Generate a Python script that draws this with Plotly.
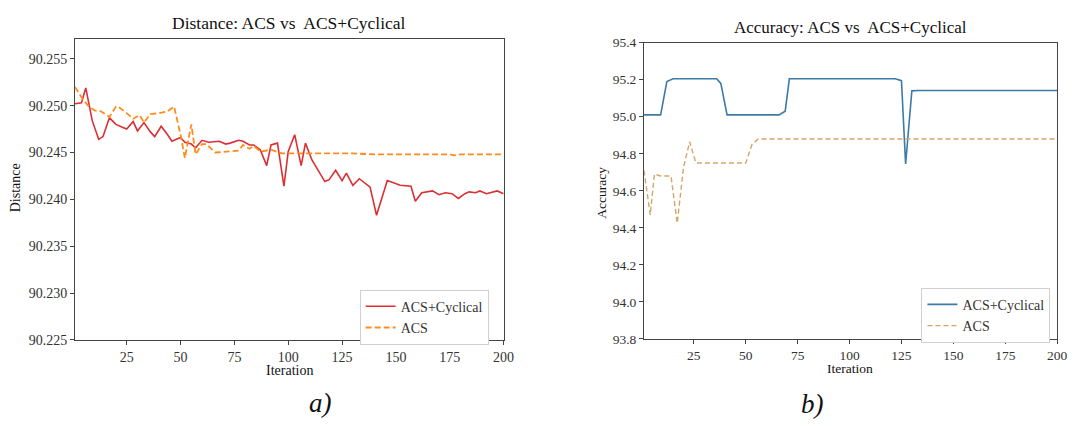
import plotly.graph_objects as go

# ---------------- data: (a) Distance ----------------
dist_cyc_iter = [1, 4, 6, 9, 12, 14, 17, 20, 23, 25, 28, 30, 33, 36, 38, 41, 44, 46, 50, 52,
                 55, 57, 60, 63, 68, 71, 73, 77, 79, 82, 84, 87, 90, 92, 95, 98, 100, 103, 106, 108,
                 111, 117, 119, 122, 125, 127, 130, 133, 138, 141, 146, 152, 157, 159, 162, 167, 170, 173, 176, 179,
                 182, 184, 187, 189, 192, 195, 197, 200]
dist_cyc = [90.2502, 90.2503, 90.2519, 90.2484, 90.2464, 90.2467, 90.2487, 90.2480, 90.2477, 90.2475,
            90.2483, 90.2473, 90.2482, 90.2472, 90.2467, 90.2478, 90.2469, 90.2462, 90.2466, 90.2461,
            90.2459, 90.2455, 90.2463, 90.2461, 90.2462, 90.2459, 90.2460, 90.2463, 90.2462, 90.2458,
            90.2458, 90.2453, 90.2436, 90.2458, 90.2460, 90.2414, 90.2451, 90.2469, 90.2436, 90.2460,
            90.2442, 90.2419, 90.2421, 90.2431, 90.2420, 90.2428, 90.2415, 90.2422, 90.2413, 90.2383,
            90.2420, 90.2415, 90.2414, 90.2398, 90.2407, 90.2409, 90.2405, 90.2407, 90.2406, 90.2401,
            90.2406, 90.2408, 90.2407, 90.2409, 90.2406, 90.2408, 90.2409, 90.2406]

dist_acs_iter = [1, 4, 7, 10, 13, 17, 20, 21, 25, 28, 31, 33, 36, 40, 44, 47, 50, 52, 55, 57,
                 60, 62, 66, 71, 77, 79, 82, 84, 87, 92, 97, 130, 140, 175, 177, 180, 200]
dist_acs = [90.2520, 90.2509, 90.2500, 90.2495, 90.2494, 90.2488, 90.2499, 90.2499, 90.2492, 90.2486,
            90.2490, 90.2482, 90.2491, 90.2492, 90.2494, 90.2499, 90.2469, 90.2444, 90.2480, 90.2448,
            90.2459, 90.2459, 90.2450, 90.2451, 90.2452, 90.2458, 90.2454, 90.2457, 90.2451, 90.2453,
            90.2449, 90.2449, 90.2448, 90.2448, 90.2447, 90.2448, 90.2448]

# ---------------- data: (b) Accuracy ----------------
acc_cyc_iter = [1, 9, 12, 15, 36, 38, 41, 66, 69, 71, 122, 125, 127, 130, 133, 200]
acc_cyc = [95.01, 95.01, 95.19, 95.205, 95.205, 95.18, 95.01, 95.01, 95.03, 95.205,
           95.205, 95.195, 94.745, 95.14, 95.142, 95.142]

acc_acs_iter = [1, 4, 6, 9, 14, 17, 20, 23, 26, 50, 53, 56, 200]
acc_acs = [94.71, 94.47, 94.69, 94.68, 94.68, 94.425, 94.725, 94.865, 94.75, 94.75, 94.85, 94.88, 94.88]

dist_ticks = [90.225, 90.230, 90.235, 90.240, 90.245, 90.250, 90.255]
acc_ticks = [93.8, 94.0, 94.2, 94.4, 94.6, 94.8, 95.0, 95.2, 95.4]
iter_ticks = [25, 50, 75, 100, 125, 150, 175, 200]

FONT = "Liberation Serif"
W, H = 1086, 427

fig = go.Figure()
fig.add_trace(go.Scatter(x=dist_cyc_iter, y=dist_cyc, mode="lines", name="ACS+Cyclical",
                         line=dict(color="#dc2f32", width=1.6), xaxis="x", yaxis="y", legend="legend"))
fig.add_trace(go.Scatter(x=dist_acs_iter, y=dist_acs, mode="lines", name="ACS",
                         line=dict(color="#ff8c1a", width=1.8, dash="6px,3px"), xaxis="x", yaxis="y",
                         legend="legend"))
fig.add_trace(go.Scatter(x=acc_cyc_iter, y=acc_cyc, mode="lines", name="ACS+Cyclical",
                         line=dict(color="#3d7ba6", width=1.6), xaxis="x2", yaxis="y2", legend="legend2"))
fig.add_trace(go.Scatter(x=acc_acs_iter, y=acc_acs, mode="lines", name="ACS",
                         line=dict(color="#d4a468", width=1.4, dash="5px,3px"), xaxis="x2", yaxis="y2",
                         legend="legend2"))

def px(x):
    return x / W

def py(y):
    return 1 - y / H

tf_left = dict(family=FONT, size=14, color="#333")
tf_right = dict(family=FONT, size=13.5, color="#333")
axis_common = dict(showgrid=False, zeroline=False, showline=True, mirror=True,
                   linecolor="#444", linewidth=1, ticks="outside", ticklen=4, tickcolor="#444")

fig.update_layout(
    autosize=True, margin=dict(l=0, r=0, t=0, b=0),
    paper_bgcolor="white", plot_bgcolor="white",
    xaxis=dict(domain=[px(75.7), px(508.3)], range=[1, 200], tickvals=iter_ticks,
               anchor="y", tickfont=tf_left, **axis_common),
    yaxis=dict(domain=[py(345), py(33.3)], range=[90.225, 90.2571], tickvals=dist_ticks,
               tickformat=".3f", anchor="x", tickfont=tf_left, **axis_common),
    xaxis2=dict(domain=[px(650), px(1067)], range=[1, 200], tickvals=iter_ticks,
                anchor="y2", tickfont=tf_right, **axis_common),
    yaxis2=dict(domain=[py(344), py(37)], range=[93.8, 95.4], tickvals=acc_ticks,
                tickformat=".1f", anchor="x2", tickfont=tf_right, **axis_common),
    legend=dict(x=px(363), y=py(293), xanchor="left", yanchor="top",
                bgcolor="white", bordercolor="#d0d0d0", borderwidth=1,
                font=dict(family=FONT, size=14, color="#333"), tracegroupgap=0),
    legend2=dict(x=px(930), y=py(291), xanchor="left", yanchor="top",
                 bgcolor="white", bordercolor="#d0d0d0", borderwidth=1,
                 font=dict(family=FONT, size=14, color="#333"), tracegroupgap=0),
    showlegend=True,
)

annos = [
    dict(text="Distance: ACS vs  ACS+Cyclical", x=px(292), y=py(17), size=17.5),
    dict(text="Accuracy: ACS vs  ACS+Cyclical", x=px(858), y=py(21), size=17),
    dict(text="Iteration", x=px(292), y=py(377), size=14),
    dict(text="Iteration", x=px(858), y=py(374.5), size=13.5),
    dict(text="<i>a)</i>", x=px(323), y=py(410), size=27),
    dict(text="<i>b)</i>", x=px(820), y=py(411), size=27),
]
for a in annos:
    fig.add_annotation(text=a["text"], x=a["x"], y=a["y"], xref="paper", yref="paper",
                       xanchor="center", yanchor="middle", showarrow=False,
                       font=dict(family=FONT, size=a["size"], color="#111"))

fig.add_annotation(text="Distance", x=px(16), y=py(187), xref="paper", yref="paper",
                   xanchor="center", yanchor="middle", showarrow=False, textangle=-90,
                   font=dict(family=FONT, size=14, color="#111"))
fig.add_annotation(text="Accuracy", x=px(607), y=py(192), xref="paper", yref="paper",
                   xanchor="center", yanchor="middle", showarrow=False, textangle=-90,
                   font=dict(family=FONT, size=13.5, color="#111"))

# Pin the figure div to the top-left corner of the page, exactly window-sized.
fig.write_html("out.html",
               config={"displayModeBar": False},
               default_width="1086px; position:absolute; left:0px; top:0px",
               default_height="427px")
